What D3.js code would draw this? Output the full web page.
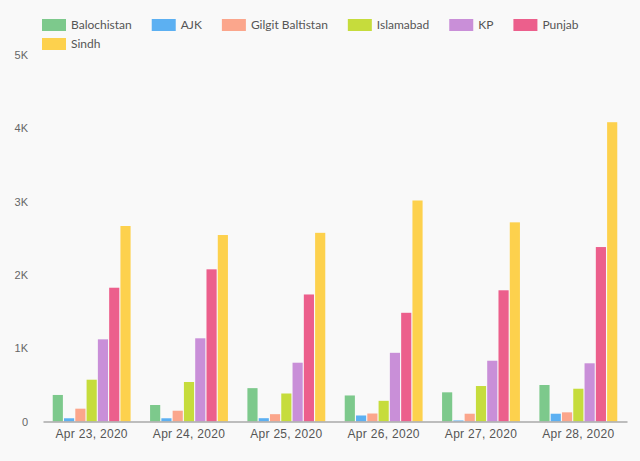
<!DOCTYPE html>
<html lang="en">
  <head>
    <meta charset="UTF-8" />
    <title>Pakistan cases by province</title>
    <script src="https://d3js.org/d3.v7.min.js"></script>
    <style>
      body {
        margin: 0;
        background: #f9f9f9;
        font-family: "Lato", "Noto Sans", sans-serif;
        overflow: hidden;
      }
      .tick text {
        fill: #666;
        font-size: 11px;
      }
      .x-axis .tick text {
        fill: #555;
        font-size: 12px;
        letter-spacing: 0.3px;
      }
      .legend text {
        fill: #555;
        font-size: 12px;
      }
    </style>
  </head>
  <body>
    <svg id="chart"></svg>
    <script>
      const dates = ["Apr 23, 2020", "Apr 24, 2020", "Apr 25, 2020", "Apr 26, 2020", "Apr 27, 2020", "Apr 28, 2020"];
      const provinces = ["Balochistan", "AJK", "Gilgit Baltistan", "Islamabad", "KP", "Punjab", "Sindh"];
      const colors = ["#7dc98c", "#5cb0f2", "#fba68c", "#c6dc3c", "#c98fd8", "#ec5f8c", "#fdd14d"];

      // one array per province, one value per date
      const balochistan = [362, 225, 455, 355, 398, 498];
      const ajk = [44, 44, 45, 82, 14, 106];
      const gilgit = [175, 147, 100, 109, 106, 125];
      const islamabad = [570, 539, 382, 282, 484, 447];
      const kp = [1121, 1135, 802, 937, 829, 794];
      const punjab = [1825, 2076, 1733, 1483, 1790, 2380];
      const sindh = [2667, 2544, 2574, 3015, 2717, 4083];
      const series = [balochistan, ajk, gilgit, islamabad, kp, punjab, sindh];

      const yTicks = [0, 1000, 2000, 3000, 4000, 5000];

      const width = 640;
      const height = 461;
      const margin = { top: 55, right: 13, bottom: 39.5, left: 43 };

      const svg = d3.select("#chart").attr("width", width).attr("height", height);

      const x0 = d3
        .scaleBand()
        .domain(dates)
        .range([margin.left, width - margin.right])
        .paddingInner(0.2)
        .paddingOuter(0.1);

      const x1 = d3
        .scaleBand()
        .domain(provinces)
        .range([0, x0.bandwidth()])
        .paddingInner(0.1);

      const y = d3
        .scaleLinear()
        .domain([0, 5000])
        .range([height - margin.bottom, margin.top]);

      const color = d3.scaleOrdinal().domain(provinces).range(colors);

      // y axis (labels only)
      svg
        .append("g")
        .attr("transform", `translate(${margin.left - 12},0)`)
        .call(
          d3
            .axisLeft(y)
            .tickValues(yTicks)
            .tickSize(0)
            .tickFormat((d) => (d === 0 ? "0" : d / 1000 + "K"))
        )
        .call((g) => g.select(".domain").remove());

      // bars
      const groups = svg
        .append("g")
        .selectAll("g")
        .data(dates)
        .join("g")
        .attr("transform", (d) => `translate(${x0(d)},0)`);

      groups
        .selectAll("rect")
        .data((d, i) => provinces.map((p, j) => ({ p, v: series[j][i] })))
        .join("rect")
        .attr("x", (d) => x1(d.p))
        .attr("y", (d) => y(d.v))
        .attr("width", x1.bandwidth())
        .attr("height", (d) => y(0) - y(d.v))
        .attr("fill", (d) => color(d.p));

      // x axis
      const xAxis = svg
        .append("g")
        .attr("class", "x-axis")
        .attr("transform", `translate(0,${y(0)})`)
        .call(d3.axisBottom(x0).tickSize(0).tickPadding(8));
      xAxis.select(".domain").attr("stroke", "#a8a8a8").attr("stroke-width", 1.5);

      // legend, flowing left to right then wrapping
      const legend = svg.append("g").attr("class", "legend");
      let lx = 42;
      let ly = 19;
      provinces.forEach((p) => {
        const item = legend.append("g");
        item
          .append("rect")
          .attr("width", 24)
          .attr("height", 12)
          .attr("fill", color(p));
        const t = item
          .append("text")
          .attr("x", 29)
          .attr("y", 6)
          .attr("dy", "0.35em")
          .text(p);
        const w = 29 + t.node().getComputedTextLength() + 20;
        if (lx + w - 20 > width - 20) {
          lx = 42;
          ly += 19;
        }
        item.attr("transform", `translate(${lx},${ly})`);
        lx += w;
      });
    </script>
  </body>
</html>
